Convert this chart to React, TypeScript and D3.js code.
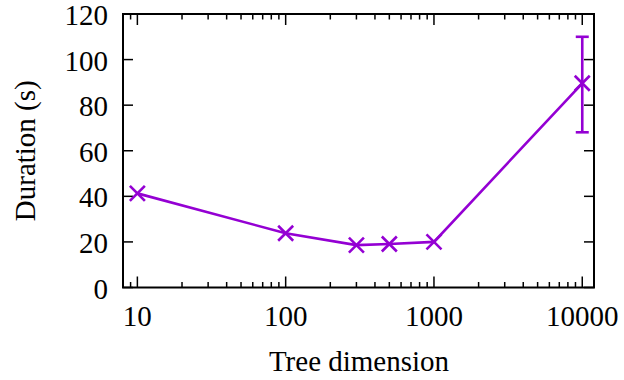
import React from "react";
import * as d3 from "d3";

const dims = [10, 100, 300, 500, 1000, 10000];
const durations = [41.3, 23.8, 18.6, 19.1, 20.0, 89.6];
const errLow = [null, null, null, null, null, 68.1];
const errHigh = [null, null, null, null, null, 110.0];
const yTicks = [0, 20, 40, 60, 80, 100, 120];
const xMajorTicks = [10, 100, 1000, 10000];

const W = 624, H = 380;
const L = 123, R = 594, T = 14, B = 287.5;
const COLOR = "#9400d3";
const FONT = "Liberation Serif, Times New Roman, Times, DejaVu Serif, serif";

export default function App() {
  const x = d3.scaleLog().domain([8, 12000]).range([L, R]);
  const y = d3.scaleLinear().domain([0, 120]).range([B, T]);

  const minor: number[] = [];
  for (let e = 0; e <= 4; e++) {
    for (let m = 2; m <= 9; m++) {
      const v = m * Math.pow(10, e);
      if (v >= 8 && v <= 12000) minor.push(v);
    }
  }

  const line = d3.line<number>().x((_, i) => x(dims[i])).y((d) => y(d));
  const cs = 7.5;

  return (
    <svg width={W} height={H} style={{ position: "absolute", left: 0, top: 0, background: "#fff" }}>
      <g stroke="#000" strokeWidth={1.5}>
        {yTicks.map((t) => (
          <g key={"y" + t}>
            <line x1={L} x2={L + 10} y1={y(t)} y2={y(t)} />
            <line x1={R} x2={R - 10} y1={y(t)} y2={y(t)} />
          </g>
        ))}
        {xMajorTicks.map((t) => (
          <g key={"x" + t}>
            <line x1={x(t)} x2={x(t)} y1={B} y2={B - 11} />
            <line x1={x(t)} x2={x(t)} y1={T} y2={T + 11} />
          </g>
        ))}
        {minor.map((t) => (
          <g key={"m" + t}>
            <line x1={x(t)} x2={x(t)} y1={B} y2={B - 5.5} />
            <line x1={x(t)} x2={x(t)} y1={T} y2={T + 5.5} />
          </g>
        ))}
      </g>
      <path d={line(durations) || ""} fill="none" stroke={COLOR} strokeWidth={2.6} />
      <g stroke={COLOR} strokeWidth={2.6}>
        {dims.map((d, i) => (
          <g key={"p" + d}>
            <line x1={x(d) - cs} x2={x(d) + cs} y1={y(durations[i]) - cs} y2={y(durations[i]) + cs} />
            <line x1={x(d) - cs} x2={x(d) + cs} y1={y(durations[i]) + cs} y2={y(durations[i]) - cs} />
            {errLow[i] != null && errHigh[i] != null && (
              <g>
                <line x1={x(d)} x2={x(d)} y1={y(errLow[i] as number)} y2={y(errHigh[i] as number)} />
                <line x1={x(d) - 6.5} x2={x(d) + 6.5} y1={y(errLow[i] as number)} y2={y(errLow[i] as number)} />
                <line x1={x(d) - 6.5} x2={x(d) + 6.5} y1={y(errHigh[i] as number)} y2={y(errHigh[i] as number)} />
              </g>
            )}
          </g>
        ))}
      </g>
      <rect x={L} y={T} width={R - L} height={B - T} fill="none" stroke="#000" strokeWidth={2} />
      <g style={{ fontFamily: FONT }} fontSize={29} fill="#000">
        {yTicks.map((t) => (
          <text key={"yl" + t} x={108} y={y(t) + 11} textAnchor="end">{t}</text>
        ))}
        {xMajorTicks.map((t) => (
          <text key={"xl" + t} x={x(t)} y={326} textAnchor="middle">{t}</text>
        ))}
        <text x={(L + R) / 2 + 0.5} y={371} textAnchor="middle">Tree dimension</text>
        <text transform={`translate(35, ${(T + B) / 2}) rotate(-90)`} textAnchor="middle">Duration (s)</text>
      </g>
    </svg>
  );
}
